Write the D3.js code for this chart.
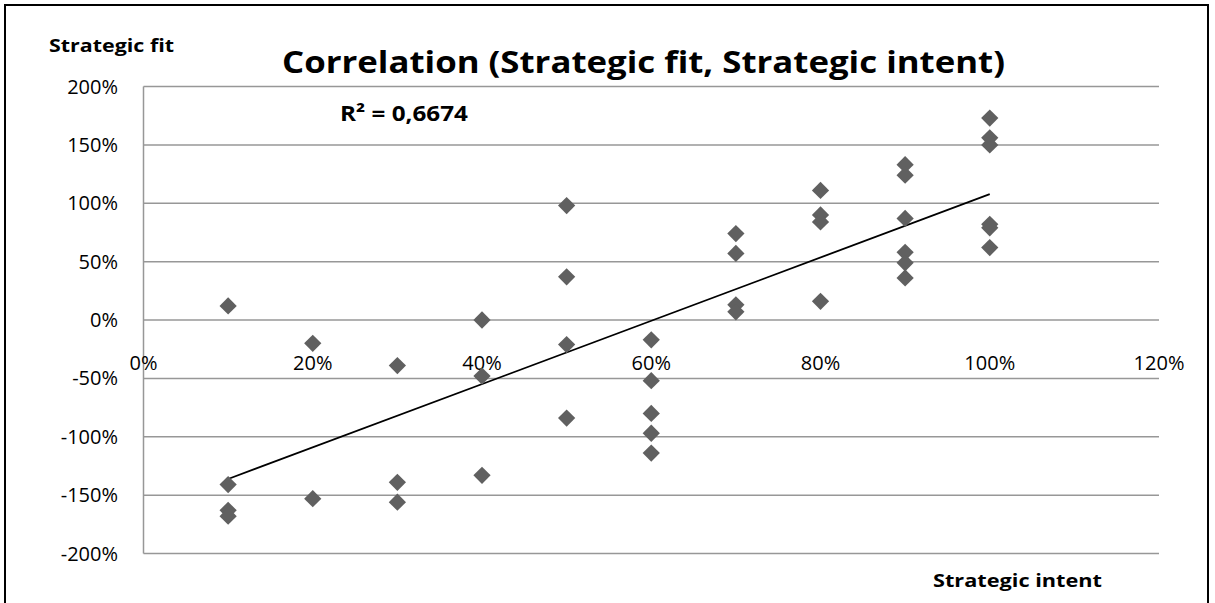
<!DOCTYPE html>
<html>
<head>
<meta charset="utf-8">
<script src="https://cdn.jsdelivr.net/npm/d3@7"></script>
<style>
  body { margin: 0; background: #fff; }
  text { font-family: "Open Sans", "Noto Sans", sans-serif; }
</style>
</head>
<body>
<div id="chart"></div>
<script>
// strategic intent (x, %) and strategic fit (y, %) per respondent
let intent = [10, 10, 10, 10, 20, 20, 30, 30, 30, 40, 40, 40,
    50, 50, 50, 50, 60, 60, 60, 60, 60, 70, 70, 70, 70,
    80, 80, 80, 80, 90, 90, 90, 90, 90, 90,
    100, 100, 100, 100, 100, 100]
let fit = [12, -141, -163, -168, -20, -153, -39, -139, -156, 0, -48, -133,
    98, 37, -21, -84, -17, -52, -80, -97, -114, 74, 57, 13, 7,
    111, 90, 84, 16, 133, 124, 87, 58, 49, 36,
    173, 156, 150, 82, 79, 62]

let xTicks = [0, 20, 40, 60, 80, 100, 120]
let yTicks = [200, 150, 100, 50, 0, -50, -100, -150, -200]
let xTickLabels = ["0%", "20%", "40%", "60%", "80%", "100%", "120%"]
let yTickLabels = ["200%", "150%", "100%", "50%", "0%", "-50%", "-100%", "-150%", "-200%"]

let title = "Correlation (Strategic fit, Strategic intent)"
let xTitle = "Strategic intent"
let yTitle = "Strategic fit"
let r2Label = "R² = 0,6674"

let W = 1215, H = 603
let margin = {top: 86.5, right: 56, bottom: 49.5, left: 143.5}

let svg = d3.select("#chart").append("svg")
    .attr("width", W).attr("height", H)

// outer frame
svg.append("rect").attr("x", 5).attr("y", 5).attr("width", 1203).attr("height", 605)
    .attr("fill", "none").attr("stroke", "#000").attr("stroke-width", 2)

let x = d3.scaleLinear().domain([0, 120]).range([margin.left, W - margin.right])
let y = d3.scaleLinear().domain([-200, 200]).range([H - margin.bottom, margin.top])

// horizontal gridlines
svg.append("g").selectAll("line").data(yTicks).join("line")
    .attr("x1", x(0)).attr("x2", x(120))
    .attr("y1", d => y(d)).attr("y2", d => y(d))
    .attr("stroke", "#979797").attr("stroke-width", 1.5)

// vertical axis line
svg.append("line").attr("x1", x(0)).attr("x2", x(0))
    .attr("y1", y(200)).attr("y2", y(-200))
    .attr("stroke", "#979797").attr("stroke-width", 1.5)

// y tick labels
svg.append("g").selectAll("text").data(yTicks).join("text")
    .attr("x", 118).attr("y", d => y(d)).attr("dy", "0.35em")
    .attr("text-anchor", "end").attr("font-size", 20).attr("fill", "#000")
    .text((d, i) => yTickLabels[i])

// x tick labels, sitting below the zero line
svg.append("g").selectAll("text").data(xTicks).join("text")
    .attr("x", d => x(d)).attr("y", y(0) + 43).attr("dy", "0.35em")
    .attr("text-anchor", "middle").attr("font-size", 20).attr("fill", "#000")
    .text((d, i) => xTickLabels[i])

// linear trend line (least squares)
let mx = d3.mean(intent), my = d3.mean(fit)
let sxy = d3.sum(intent, (d, i) => (d - mx) * (fit[i] - my))
let sxx = d3.sum(intent, d => (d - mx) * (d - mx))
let slope = sxy / sxx, icpt = my - slope * mx
let xr = d3.extent(intent)
svg.append("path")
    .datum(xr.map(v => [v, icpt + slope * v]))
    .attr("d", d3.line().x(d => x(d[0])).y(d => y(d[1])))
    .attr("fill", "none").attr("stroke", "#000").attr("stroke-width", 1.8)

// diamond markers
let diamond = d3.symbol().type(d3.symbolDiamond2).size(190)
svg.append("g").selectAll("path").data(intent).join("path")
    .attr("transform", (d, i) => "translate(" + x(d) + "," + y(fit[i]) + ")")
    .attr("d", diamond)
    .attr("fill", "#606060")

// texts
svg.append("text").attr("x", 282).attr("y", 73)
    .attr("font-size", 31).attr("font-weight", "bold")
    .attr("textLength", 723).attr("lengthAdjust", "spacingAndGlyphs")
    .text(title)

svg.append("text").attr("x", 49).attr("y", 52)
    .attr("font-size", 18).attr("font-weight", "bold")
    .attr("textLength", 125).attr("lengthAdjust", "spacingAndGlyphs")
    .text(yTitle)

svg.append("text").attr("x", 933).attr("y", 587)
    .attr("font-size", 18).attr("font-weight", "bold")
    .attr("textLength", 169).attr("lengthAdjust", "spacingAndGlyphs")
    .text(xTitle)

svg.append("text").attr("x", 340).attr("y", 121)
    .attr("font-size", 21).attr("font-weight", "bold")
    .attr("textLength", 128).attr("lengthAdjust", "spacingAndGlyphs")
    .text(r2Label)
</script>
</body>
</html>
